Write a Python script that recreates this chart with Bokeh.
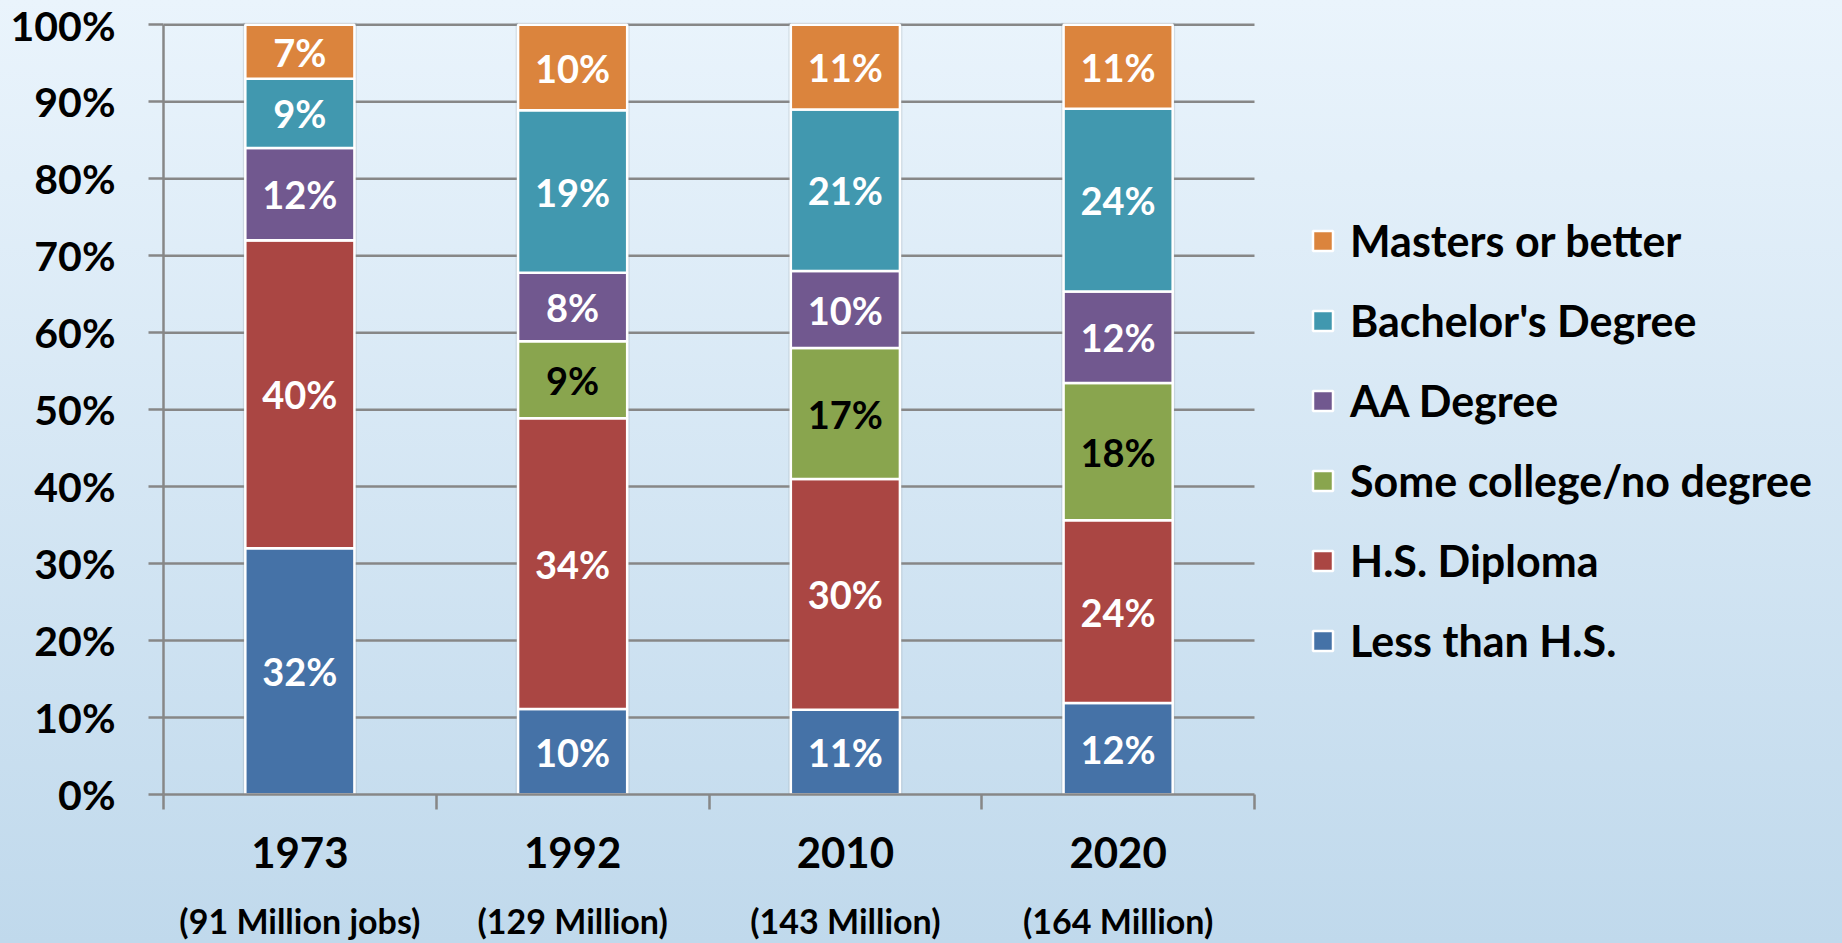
from bokeh.plotting import figure
from bokeh.models import (ColumnDataSource, FixedTicker, LinearAxis, Legend, LegendItem,
                          NumeralTickFormatter, Range1d)
from bokeh.core.properties import value
from bokeh.embed import file_html
from bokeh.resources import INLINE

# ---- data ----
years = ["1973", "1992", "2010", "2020"]
subtitles = ["(91 Million jobs)", "(129 Million)", "(143 Million)", "(164 Million)"]
series = ["Less than H.S.", "H.S. Diploma", "Some college/no degree",
          "AA Degree", "Bachelor's Degree", "Masters or better"]
less_hs = [32, 10, 11, 12]
hs_diploma = [40, 34, 30, 24]
some_college = [0, 9, 17, 18]
aa_degree = [12, 8, 10, 12]
bachelors = [9, 19, 21, 24]
masters = [7, 10, 11, 11]
y_ticks = [0, 0.1, 0.2, 0.3, 0.4, 0.5, 0.6, 0.7, 0.8, 0.9, 1.0]

colors = ["#4572a7", "#aa4643", "#89a54e", "#71588f", "#4198af", "#db843d"]
label_colors = ["white", "white", "black", "white", "white", "white"]
values = [less_hs, hs_diploma, some_college, aa_degree, bachelors, masters]

FONT = "Lato"
GRAY = "#878787"

n = len(years)
xs = [i + 0.5 for i in range(n)]
bounds_x = [0, 1, 2, 3, 4]
totals = [sum(v[i] for v in values) for i in range(n)]

W, H = 1842, 943
LEFT, TOP, BOTTOM = 163, 22, 148
x_end = n * (W - LEFT) / (1254 - LEFT)

p = figure(width=W, height=H, x_range=Range1d(0, x_end), y_range=Range1d(0, 1.003),
           output_backend="svg", toolbar_location=None,
           x_axis_type=None, y_axis_type=None,
           min_border_left=LEFT, min_border_top=TOP, min_border_bottom=BOTTOM, min_border_right=0,
           background_fill_color=None, border_fill_color=None, outline_line_color=None,
           styles={"background": "linear-gradient(to bottom, #eaf4fc, #c0d9ec)"})

# y axis
yaxis = LinearAxis(ticker=FixedTicker(ticks=y_ticks, minor_ticks=[]),
                   formatter=NumeralTickFormatter(format="0%"), bounds=(0, 1),
                   major_tick_out=15, major_tick_in=0,
                   axis_line_color=GRAY, axis_line_width=2.5,
                   major_tick_line_color=GRAY, major_tick_line_width=2.5,
                   major_label_text_font=FONT, major_label_text_font_style="bold",
                   major_label_text_font_size="41px", major_label_text_color="black",
                   major_label_standoff=33)
p.add_layout(yaxis, "left")

# horizontal gridlines across the category area only
p.segment(x0=0, x1=n, y0=y_ticks[1:], y1=y_ticks[1:], line_color=GRAY, line_width=2.5)

# x axis with years
xaxis = LinearAxis(ticker=FixedTicker(ticks=xs, minor_ticks=bounds_x), bounds=(0, n),
                   major_label_overrides={x: y for x, y in zip(xs, years)},
                   major_tick_out=0, major_tick_in=0, major_tick_line_color=None,
                   minor_tick_out=15, minor_tick_in=0,
                   minor_tick_line_color=GRAY, minor_tick_line_width=2.5,
                   axis_line_color=GRAY, axis_line_width=2.5,
                   major_label_text_font=FONT, major_label_text_font_style="bold",
                   major_label_text_font_size="42px", major_label_text_color="black",
                   major_label_standoff=27)
p.add_layout(xaxis, "below")

subaxis = LinearAxis(ticker=FixedTicker(ticks=xs, minor_ticks=[]), bounds=(0, n),
                     major_label_overrides={x: s for x, s in zip(xs, subtitles)},
                     major_tick_line_color=None, minor_tick_line_color=None,
                     axis_line_color=None,
                     major_label_text_font=FONT, major_label_text_font_style="bold",
                     major_label_text_font_size="34px", major_label_text_color="black",
                     major_label_standoff=23)
p.add_layout(subaxis, "below")

# subtle shadow behind bars
p.vbar(x=xs, width=0.418, bottom=0, top=1.003, fill_color="#8a96a0", fill_alpha=0.25,
       line_color=None)

renderers = []
for k, name in enumerate(series):
    bottoms, tops, mids, labels, lx = [], [], [], [], []
    for i in range(n):
        below = sum(values[j][i] for j in range(k)) / totals[i]
        top = below + values[k][i] / totals[i]
        bottoms.append(below)
        tops.append(top)
        if values[k][i] > 0:
            mids.append((below + top) / 2)
            labels.append(f"{values[k][i]}%")
            lx.append(xs[i])
    src = ColumnDataSource(dict(x=xs, bottom=bottoms, top=tops))
    r = p.vbar(x="x", width=0.4, bottom="bottom", top="top", source=src,
               fill_color=colors[k], line_color="white", line_width=2.5)
    renderers.append(r)
    p.text(x=lx, y=mids, text=labels, text_font=value(FONT), text_font_style="bold",
           text_font_size="38px", text_color=label_colors[k],
           text_align="center", text_baseline="middle")

legend = Legend(items=[LegendItem(label=series[k], renderers=[renderers[k]])
                       for k in reversed(range(len(series)))],
                location=(1147, 128), orientation="vertical",
                glyph_width=25, glyph_height=25, label_standoff=15,
                label_text_font=FONT, label_text_font_style="bold",
                label_text_font_size="43px", label_text_color="black",
                spacing=29, padding=0, margin=0,
                background_fill_alpha=0, border_line_alpha=0)
p.add_layout(legend)

open("out.html", "w").write(file_html(p, INLINE))
